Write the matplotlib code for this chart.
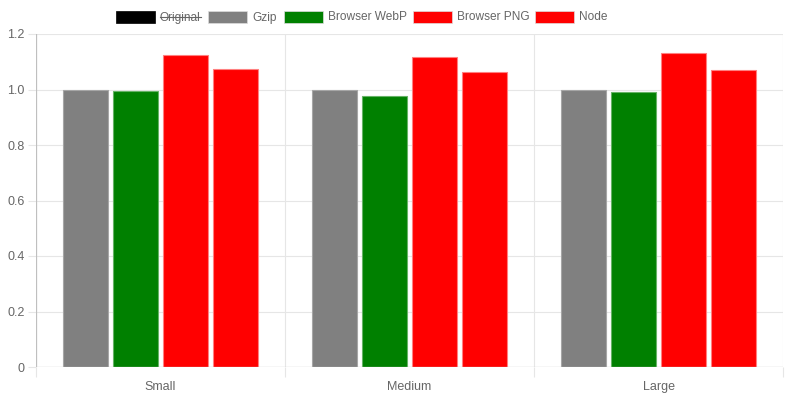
import matplotlib
matplotlib.use("Agg")
import matplotlib.pyplot as plt
from matplotlib.patches import Rectangle
from matplotlib.lines import Line2D
import numpy as np

categories = ["Small", "Medium", "Large"]
series_names = ["Gzip", "Browser WebP", "Browser PNG", "Node"]
series_colors = ["#808080", "#008000", "#ff0000", "#ff0000"]
series_edges = ["#a6a6a6", "#66b366", "#ff8080", "#ff8080"]
gzip = [1.0, 1.0, 1.0]
browser_webp = [0.994, 0.978, 0.990]
browser_png = [1.123, 1.116, 1.130]
node = [1.073, 1.064, 1.069]
series_values = [gzip, browser_webp, browser_png, node]

legend_labels = ["Original", "Gzip", "Browser WebP", "Browser PNG", "Node"]
legend_colors = ["#000000", "#808080", "#008000", "#ff0000", "#ff0000"]
legend_hidden = [True, False, False, False, False]
y_ticks = [0, 0.2, 0.4, 0.6, 0.8, 1.0, 1.2]
y_tick_labels = ["0", "0.2", "0.4", "0.6", "0.8", "1.0", "1.2"]

W, H = 800, 399
fig = plt.figure(figsize=(W / 100, H / 100), dpi=100)
plt.rcParams["font.family"] = ["Liberation Sans", "DejaVu Sans"]
ax = fig.add_axes([36 / W, (H - 367) / H, (783 - 36) / W, (367 - 34) / H])

x = np.arange(len(categories))
n = len(series_values)
bw = 0.18
for j, vals in enumerate(series_values):
    ax.bar(x + (j - (n - 1) / 2) * 0.2, vals, width=bw, color=series_colors[j],
           edgecolor=series_edges[j], linewidth=0.8, zorder=3)

ax.set_xlim(-0.5, len(categories) - 0.5)
ax.set_ylim(0, 1.2)
ax.set_yticks(y_ticks)
ax.set_yticklabels(y_tick_labels)
ax.set_xticks(x)
ax.set_xticklabels(categories)
ax.set_xticks(np.arange(-0.5, len(categories)), minor=True)

for s in ax.spines.values():
    s.set_visible(False)

grid_c = "#e6e6e6"
zero_c = "#bfbfbf"
for yv in y_ticks[1:]:
    ax.axhline(yv, color=grid_c, lw=0.8, zorder=1)
for xv in np.arange(0.5, len(categories) - 0.5):
    ax.axvline(xv, color=grid_c, lw=0.8, zorder=1)
ax.axvline(len(categories) - 0.5, color=grid_c, lw=0.8, zorder=1)
ax.axvline(-0.5, color=zero_c, lw=0.9, zorder=4)
ax.axhline(0, color=zero_c, lw=0.9, zorder=4)

ax.tick_params(axis="y", which="major", length=6, width=0.8, color=grid_c,
               labelsize=9, labelcolor="#666666", pad=2)
ax.tick_params(axis="x", which="major", length=0, labelsize=9,
               labelcolor="#666666", pad=10)
ax.tick_params(axis="x", which="minor", length=7.5, width=0.8, color=grid_c)

# legend drawn manually in pixel coordinates (box left edges from reference layout)
fs = 8.6
box_x = [116, 208, 284, 413, 535]
for bx, lab, col, hid in zip(box_x, legend_labels, legend_colors, legend_hidden):
    fig.patches.append(Rectangle((bx / W, (H - 22.5) / H), 39 / W, 12 / H,
                                 transform=fig.transFigure, facecolor=col,
                                 edgecolor="#dddddd" if col != "#000000" else "#000000",
                                 linewidth=0.5))
    tx = bx + 44
    t = fig.text(tx / W, (H - 20.5) / H, lab, fontsize=fs, color="#666666",
                 va="baseline", ha="left")
    if hid:
        fig.canvas.draw()
        tw = t.get_window_extent().width
        fig.lines.append(Line2D([tx / W, (tx + tw) / W], [(H - 16.5) / H] * 2,
                                transform=fig.transFigure, color="#666666", lw=0.8))

fig.savefig("out.png", dpi=100)
